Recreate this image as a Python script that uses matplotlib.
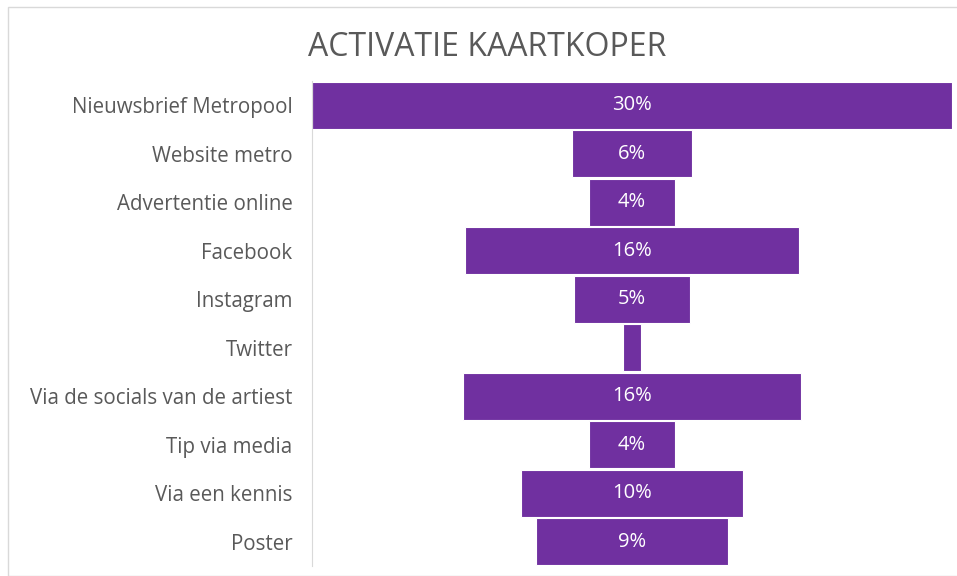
import matplotlib.pyplot as plt
from matplotlib.patches import Rectangle

plt.rcParams['font.family'] = ['Open Sans', 'DejaVu Sans']

categories = ['Nieuwsbrief Metropool', 'Website metro', 'Advertentie online', 'Facebook',
              'Instagram', 'Twitter', 'Via de socials van de artiest', 'Tip via media',
              'Via een kennis', 'Poster']
values = [30.0, 5.6, 4.0, 15.7, 5.4, 0.8, 15.8, 4.0, 10.4, 9.0]
labels = ['30%', '6%', '4%', '16%', '5%', '', '16%', '4%', '10%', '9%']

purple = '#7030A0'
fig = plt.figure(figsize=(9.57, 5.76), dpi=100)
fig.patches.append(Rectangle((8 / 957, 0), 1, 1 - 7 / 576, transform=fig.transFigure,
                             fill=False, edgecolor='#d9d9d9', linewidth=1))
ax = fig.add_axes([312 / 957, 1 - 566 / 576, 640 / 957, (566 - 81) / 576])

vmax = max(values)
y = list(range(len(categories)))
lefts = [(vmax - v) / 2 for v in values]
ax.barh(y, values, left=lefts, height=0.96, color=purple, edgecolor='white', linewidth=0.8)
for yi, v, l, lab in zip(y, values, lefts, labels):
    ax.text(l + v / 2, yi, lab, ha='center', va='center', color='white', fontsize=14.5)

ax.set_xlim(0, vmax)
ax.set_ylim(len(categories) - 0.5, -0.5)
ax.set_yticks(y)
ax.set_yticklabels(categories, fontsize=14.8, color='#595959')
ax.tick_params(axis='y', length=0, pad=14)
ax.set_xticks([])
for s in ['top', 'right', 'bottom']:
    ax.spines[s].set_visible(False)
ax.spines['left'].set_color('#d9d9d9')

fig.text(487 / 957, 1 - 47 / 576, 'ACTIVATIE KAARTKOPER', ha='center', va='center',
         fontsize=23, color='#595959')

plt.savefig('out.png', dpi=100)
